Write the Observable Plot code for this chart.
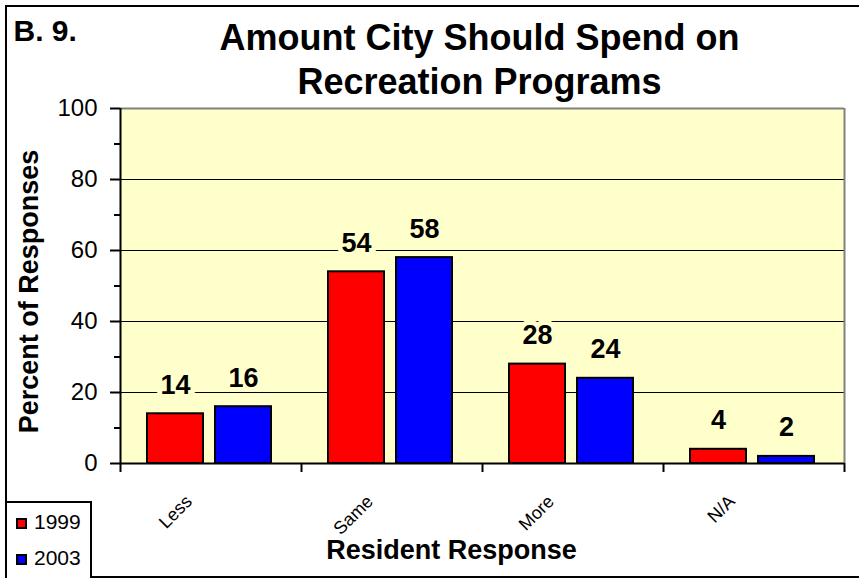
<!DOCTYPE html>
<html>
<head>
<meta charset="utf-8">
<script src="https://cdn.jsdelivr.net/npm/d3@7"></script>
<script src="https://cdn.jsdelivr.net/npm/@observablehq/plot@0.6"></script>
<style>
  body { margin: 0; background: #fff; }
  #wrap { position: relative; width: 859px; height: 578px; overflow: hidden;
          font-family: "Liberation Sans", Arial, sans-serif; }
  #border { position: absolute; left: 5px; top: 5px; width: 880px; height: 569px;
            border: 2px solid #000; }
  #wrap svg { position: absolute; left: 0; top: 0; }
</style>
</head>
<body>
<div id="wrap"><div id="border"></div></div>
<script>
// ---- data ----
const categories = ["Less", "Same", "More", "N/A"];
const years = ["1999", "2003"];
const values1999 = [14, 54, 28, 4];
const values2003 = [16, 58, 24, 2];
const yTicks = [0, 20, 40, 60, 80, 100];
const yMinorTicks = [10, 30, 50, 70, 90];
const gridTicks = [20, 40, 60, 80];
const colors = ["#FF0000", "#0000FF"];
const titleLines = ["Amount City Should Spend on", "Recreation Programs"];
const chartId = "B. 9.";
const xLabel = "Resident Response";
const yLabel = "Percent of Responses";

// ---- layout ----
const W = 859, H = 578;
const mL = 120, mR = 15, mT = 108, mB = 115;
const bw = (W - mL - mR) / categories.length;
const font = "'Liberation Sans', Arial, sans-serif";
const bg = "#FFFFCC";

const d99 = categories.map((c, i) => ({category: c, year: years[0], value: values1999[i]}));
const d03 = categories.map((c, i) => ({category: c, year: years[1], value: values2003[i]}));

const chart = Plot.plot({
  width: W, height: H,
  marginLeft: mL, marginRight: mR, marginTop: mT, marginBottom: mB,
  style: {fontFamily: font, fontSize: "24px", background: "transparent", overflow: "visible", color: "#000"},
  x: {domain: categories, padding: 0, axis: null},
  y: {domain: [0, 100], axis: null},
  marks: [
    Plot.frame({fill: bg, stroke: null}),
    Plot.ruleY(gridTicks, {stroke: "#000", strokeWidth: 1.2}),
    Plot.ruleY([100], {stroke: "#808080", strokeWidth: 2}),
    Plot.ruleX([categories[categories.length - 1]], {stroke: "#808080", strokeWidth: 2, dx: bw / 2}),
    Plot.barY(d99, {x: "category", y: "value", fill: colors[0], stroke: "#000", strokeWidth: 2, insetLeft: 27, insetRight: 98}),
    Plot.barY(d03, {x: "category", y: "value", fill: colors[1], stroke: "#000", strokeWidth: 2, insetLeft: 95, insetRight: 30}),
    Plot.text(d99, {x: "category", y: "value", text: d => String(d.value), dx: -35.5, dy: -20, lineAnchor: "bottom",
      fontSize: 27, fontWeight: "bold", fill: "#000", stroke: bg, strokeWidth: 10}),
    Plot.text(d03, {x: "category", y: "value", text: d => String(d.value), dx: 32.5, dy: -20, lineAnchor: "bottom",
      fontSize: 27, fontWeight: "bold", fill: "#000", stroke: bg, strokeWidth: 10}),
    Plot.ruleX([categories[0]], {dx: -bw / 2, stroke: "#000", strokeWidth: 2}),
    Plot.ruleY([0], {stroke: "#000", strokeWidth: 2}),
    Plot.axisY({ticks: yTicks, tickSize: 10, tickPadding: 13, strokeWidth: 2, fontSize: 24, label: null}),
    Plot.axisY({ticks: yMinorTicks, tickSize: 6, text: null, strokeWidth: 2, label: null}),
    Plot.axisX({ticks: categories, tickSize: 9, text: null, label: null, dx: -bw / 2, strokeWidth: 2}),
    Plot.axisX({ticks: [categories[categories.length - 1]], tickSize: 9, text: null, label: null, dx: bw / 2, strokeWidth: 2}),
    Plot.axisX({ticks: categories, tickSize: 0, tickRotate: -45, tickPadding: 35, dx: -22, fontSize: 18, label: null}),
    Plot.text([xLabel], {text: d => d, frameAnchor: "bottom", dx: -31, dy: 95, lineAnchor: "bottom",
      fontSize: 27, fontWeight: "bold"}),
    Plot.text([yLabel], {text: d => d, frameAnchor: "left", textAnchor: "middle", rotate: -90, dx: -91, dy: 5.5,
      lineAnchor: "middle", fontSize: 27, fontWeight: "bold"}),
    Plot.text([titleLines.join("\n")], {text: d => d, frameAnchor: "top", dx: -3, dy: -15, lineAnchor: "bottom",
      lineHeight: 1.2, fontSize: 36, fontWeight: "bold"}),
    Plot.text([chartId], {text: d => d, frameAnchor: "top-left", textAnchor: "start", dx: 13 - mL, dy: 40 - mT,
      lineAnchor: "bottom", fontSize: 30, fontWeight: "bold"})
  ]
});
document.getElementById("wrap").appendChild(chart);

// ---- legend ----
const leg = d3.select("#wrap").append("svg")
  .attr("width", W).attr("height", H)
  .style("pointer-events", "none");
leg.append("rect").attr("x", 6).attr("y", 502).attr("width", 85).attr("height", 80)
  .attr("fill", "#fff").attr("stroke", "#000").attr("stroke-width", 2);
years.forEach((yr, i) => {
  const base = 529 + i * 36;
  leg.append("rect").attr("x", 17).attr("y", base - 10).attr("width", 9).attr("height", 9)
    .attr("fill", colors[i]).attr("stroke", "#000").attr("stroke-width", 2);
  leg.append("text").attr("x", 34).attr("y", base).text(yr)
    .attr("font-family", font).attr("font-size", 21).attr("fill", "#000");
});
</script>
</body>
</html>
